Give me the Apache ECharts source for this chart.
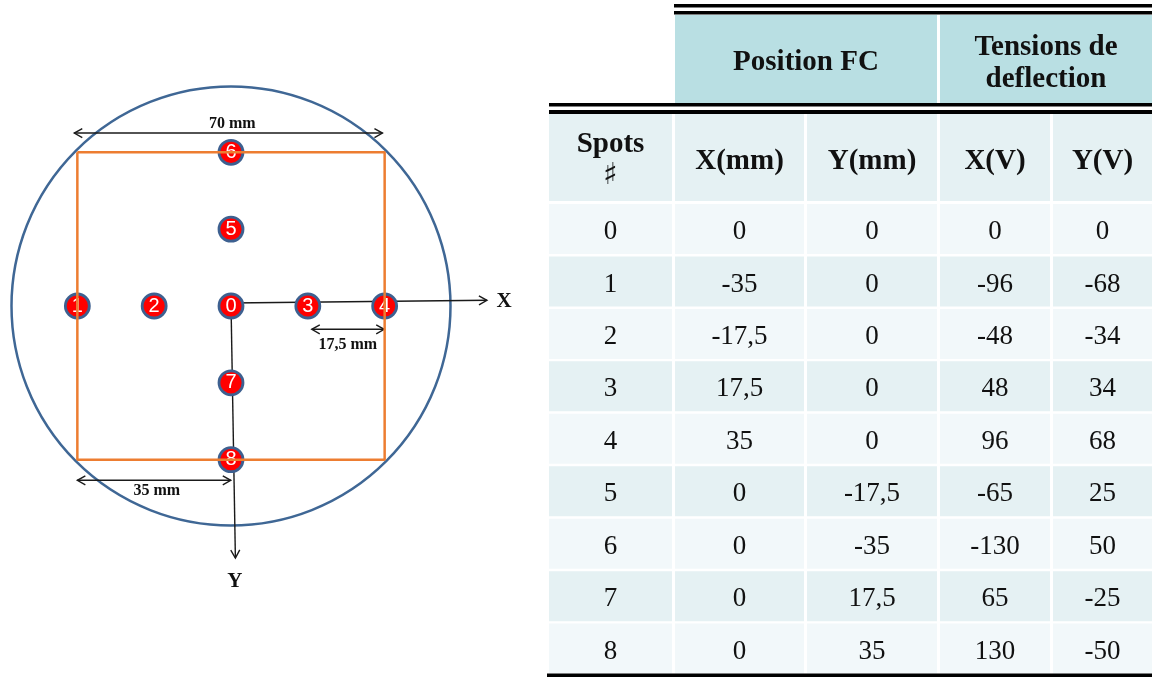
<!DOCTYPE html>
<html><head><meta charset="utf-8">
<script src="https://cdn.jsdelivr.net/npm/echarts@6/dist/echarts.min.js"></script>
<style>html,body{margin:0;padding:0;background:#fff}#c{width:1152px;height:677px}</style>
</head><body><div id="c"></div>
<script>
// ---- data ----
const spotIds = ['0','1','2','3','4','5','6','7','8'];
const posXmm = [0, -35, -17.5, 17.5, 35, 0, 0, 0, 0];
const posYmm = [0, 0, 0, 0, 0, -17.5, -35, 17.5, 35];
const voltX = [0, -96, -48, 48, 96, -65, -130, 65, 130];
const voltY = [0, -68, -34, 34, 68, 25, 50, -25, -50];
const groupHeaders = ['Position FC', 'Tensions de\ndeflection'];
const columnHeaders = ['Spots', 'X(mm)', 'Y(mm)', 'X(V)', 'Y(V)'];
const spotsSymbol = '\u266F';
const squareSideMm = 70;
const circleDiameterMm = 100;
const dimLabels = ['70 mm', '17,5 mm', '35 mm'];
const axisNames = ['X', 'Y'];

// ---- diagram geometry (in mm, drawn through the axes) ----
const dimArrows = [
  [-35.7, -39.4, 34.5, -39.4, 1],
  [18.4, 5.3, 34.9, 5.3, 1],
  [-35.0, 39.7, -0.05, 39.7, 1],
  [0, -0.7, 58.3, -1.3, 0],
  [0, -0.7, 1.0, 57.4, 0]
];
const textItems = [
  [0.3, -41.6, dimLabels[0], 16],
  [26.6, 8.8, dimLabels[1], 16],
  [-16.9, 42.2, dimLabels[2], 16],
  [62.2, -1.0, axisNames[0], 21],
  [0.9, 62.8, axisNames[1], 21]
];

const fmt = v => String(v).replace('.', ',');
const half = squareSideMm / 2;

function chevron(tip, dir, L, W) {
  const nx = -dir[1], ny = dir[0];
  return [[tip[0] - dir[0] * L + nx * W, tip[1] - dir[1] * L + ny * W], tip,
          [tip[0] - dir[0] * L - nx * W, tip[1] - dir[1] * L - ny * W]];
}

// ---- table graphics ----
const colX = [549, 675, 807, 940, 1053];
const colW = [123, 129, 130, 110, 99];
const rowTop0 = 204, rowPitch = 52.45, rowH = 50;
const black = '#000';
const g = [];
const rect = (x, y, w, h, fill) => g.push({type: 'rect', shape: {x, y, width: w, height: h}, style: {fill}, silent: true});
const txt = (x, y, text, font, extra) => g.push({type: 'text', x, y, silent: true,
  style: Object.assign({text, font, fill: '#111', align: 'center', verticalAlign: 'middle'}, extra || {})});

rect(674, 4, 478, 3.5, black);
rect(674, 11, 478, 3.5, black);
rect(675, 15, 262, 88, '#b9dfe3');
rect(940, 15, 212, 88, '#b9dfe3');
rect(549, 103, 603, 3.5, black);
rect(549, 110, 603, 4, black);
for (let c = 0; c < 5; c++) rect(colX[c], 114, colW[c], 87, '#e5f1f3');
for (let r = 0; r < spotIds.length; r++) {
  const y = rowTop0 + r * rowPitch;
  for (let c = 0; c < 5; c++) rect(colX[c], y, colW[c], rowH, r % 2 === 0 ? '#f2f8fa' : '#e5f1f3');
}
rect(547, 673.5, 605, 3.5, black);

const boldF = 'bold 29px "Liberation Serif", "Times New Roman", serif';
const regF = '27px "Liberation Serif", "Times New Roman", serif';
txt(806, 63, groupHeaders[0], boldF);
txt(1046, 64, groupHeaders[1], boldF, {lineHeight: 32});
txt(colX[0] + colW[0] / 2, 145, columnHeaders[0], boldF);
txt(colX[0] + colW[0] / 2, 176, spotsSymbol, '30px "DejaVu Sans", sans-serif');
for (let c = 1; c < 5; c++) txt(colX[c] + colW[c] / 2, 162, columnHeaders[c], boldF);
for (let r = 0; r < spotIds.length; r++) {
  const yc = rowTop0 + r * rowPitch + 28;
  const vals = [spotIds[r], fmt(posXmm[r]), fmt(posYmm[r]), fmt(voltX[r]), fmt(voltY[r])];
  for (let c = 0; c < 5; c++) txt(colX[c] + colW[c] / 2, yc, vals[c], regF);
}

// ---- chart ----
const chart = echarts.init(document.getElementById('c'), null, {renderer: 'canvas'});
chart.setOption({
  animation: false,
  backgroundColor: '#ffffff',
  grid: {left: 11.5, top: 86.5, width: 439, height: 439, containLabel: false, outerBoundsMode: 'none'},
  xAxis: {type: 'value', min: -50, max: 50, show: false},
  yAxis: {type: 'value', min: -50, max: 50, inverse: true, show: false},
  series: [
    {
      type: 'custom', name: 'wafer', silent: true,
      data: [[0, 0, circleDiameterMm]],
      renderItem: (params, api) => {
        const c = api.coord([api.value(0), api.value(1)]);
        const r = api.size([api.value(2) / 2, 0])[0];
        return {type: 'circle', shape: {cx: c[0], cy: c[1], r},
          style: {fill: 'none', stroke: '#3f6795', lineWidth: 2.5}};
      }
    },
    {
      type: 'line', name: 'square', silent: true, showSymbol: false,
      data: [[-half, -half], [half, -half], [half, half], [-half, half], [-half, -half]],
      lineStyle: {color: '#ed7d31', width: 2.5}
    },
    {
      type: 'scatter', name: 'spots', silent: true,
      data: spotIds.map((id, i) => [posXmm[i], posYmm[i], id]),
      symbol: 'circle', symbolSize: 24,
      itemStyle: {color: '#ff0000', borderColor: '#3d6090', borderWidth: 2.8, opacity: 1},
      label: {show: true, position: 'inside', formatter: p => p.value[2], color: '#fff',
        fontSize: 20, fontFamily: '"Liberation Sans", Arial, sans-serif'}
    },
    {
      type: 'custom', name: 'arrows', silent: true,
      data: dimArrows,
      renderItem: (params, api) => {
        const p1 = api.coord([api.value(0), api.value(1)]);
        const p2 = api.coord([api.value(2), api.value(3)]);
        const both = api.value(4) === 1;
        const dx = p2[0] - p1[0], dy = p2[1] - p1[1];
        const len = Math.hypot(dx, dy);
        const d = [dx / len, dy / len];
        const st = {stroke: '#1a1a1a', lineWidth: 1.4, fill: 'none'};
        const ch = [{type: 'line', shape: {x1: p1[0], y1: p1[1], x2: p2[0], y2: p2[1]}, style: st},
          {type: 'polyline', shape: {points: chevron(p2, d, 8, 4.5)}, style: st}];
        if (both) ch.push({type: 'polyline', shape: {points: chevron(p1, [-d[0], -d[1]], 8, 4.5)}, style: st});
        return {type: 'group', children: ch};
      }
    },
    {
      type: 'custom', name: 'texts', silent: true,
      data: textItems,
      renderItem: (params, api) => {
        const it = textItems[params.dataIndex];
        const p = api.coord([it[0], it[1]]);
        return {type: 'text', x: p[0], y: p[1],
          style: {text: it[2], font: 'bold ' + it[3] + 'px "Liberation Serif", "Times New Roman", serif',
            fill: '#111', align: 'center', verticalAlign: 'middle'}};
      }
    }
  ],
  graphic: g
});
</script>
</body></html>
